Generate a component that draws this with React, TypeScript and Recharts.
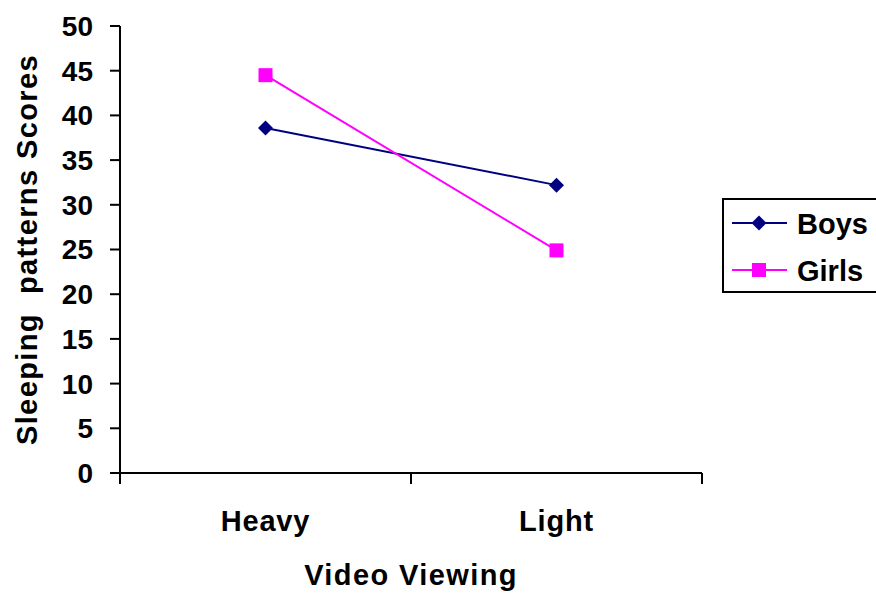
import React from "react";
import { LineChart, Line, XAxis, YAxis, Legend, Label } from "recharts";

const categories = ["Heavy", "Light"];
const boys = [38.6, 32.2];
const girls = [44.5, 24.9];
const yTicks = [0, 5, 10, 15, 20, 25, 30, 35, 40, 45, 50];

const FONT = '"Liberation Sans", Arial, Helvetica, sans-serif';
const NAVY = "#000080";
const MAGENTA = "#FF00FF";

// categories sit in the middle of each unit band; the integer ticks mark band edges
const chartData = categories.map((name, i) => ({
  pos: i + 0.5,
  name,
  boys: boys[i],
  girls: girls[i],
}));
const xTicks = [0, 0.5, 1, 1.5, 2];

const DiamondDot = (props: any) => {
  const { cx, cy } = props;
  if (cx == null || cy == null) return null;
  const r = 7.5;
  return (
    <polygon
      points={`${cx},${cy - r} ${cx + r},${cy} ${cx},${cy + r} ${cx - r},${cy}`}
      fill={NAVY}
    />
  );
};

const SquareDot = (props: any) => {
  const { cx, cy } = props;
  if (cx == null || cy == null) return null;
  const s = 14;
  return <rect x={cx - s / 2} y={cy - s / 2} width={s} height={s} fill={MAGENTA} />;
};

const XTick = (props: any) => {
  const { x, y, payload } = props;
  const v = payload.value;
  if (Number.isInteger(v)) {
    return <line x1={x} x2={x} y1={y} y2={y + 11} stroke="#000" strokeWidth={2} />;
  }
  return (
    <text
      x={x}
      y={y + 58}
      textAnchor="middle"
      fontFamily={FONT}
      fontWeight={700}
      fontSize={29}
      letterSpacing={0.8}
      fill="#000"
    >
      {categories[Math.floor(v)]}
    </text>
  );
};

const YTitle = (props: any) => {
  const vb = props.viewBox;
  const cx = vb.x + 37;
  const cy = vb.y + vb.height / 2;
  return (
    <text
      x={cx}
      y={cy}
      transform={`rotate(-90 ${cx} ${cy})`}
      textAnchor="middle"
      fontFamily={FONT}
      fontWeight={700}
      fontSize={29}
      letterSpacing={1.4}
      fill="#000"
      style={{ whiteSpace: "pre" }}
    >
      {"Sleeping  patterns Scores"}
    </text>
  );
};

const XTitle = (props: any) => {
  const vb = props.viewBox;
  return (
    <text
      x={vb.x + vb.width / 2}
      y={vb.y + 112}
      textAnchor="middle"
      fontFamily={FONT}
      fontWeight={700}
      fontSize={29}
      letterSpacing={1.4}
      fill="#000"
    >
      Video Viewing
    </text>
  );
};

const LegendBox = () => (
  <svg width={154} height={96} style={{ display: "block" }}>
    <rect x={1} y={1} width={170} height={93} fill="#fff" stroke="#000" strokeWidth={2} />
    <line x1={10} x2={65} y1={25} y2={25} stroke={NAVY} strokeWidth={2} />
    <DiamondDot cx={37} cy={25} />
    <text x={75} y={36} fontFamily={FONT} fontWeight={700} fontSize={29} fill="#000">
      Boys
    </text>
    <line x1={10} x2={65} y1={72} y2={72} stroke={MAGENTA} strokeWidth={2} />
    <SquareDot cx={37} cy={72} />
    <text x={75} y={83} fontFamily={FONT} fontWeight={700} fontSize={29} fill="#000">
      Girls
    </text>
  </svg>
);

export default function App() {
  return (
    <div style={{ position: "absolute", left: 0, top: 0, width: 876, height: 596, background: "#fff" }}>
      <LineChart
        width={876}
        height={596}
        data={chartData}
        margin={{ top: 26, right: 174, bottom: 0, left: 0 }}
      >
        <XAxis
          dataKey="pos"
          type="number"
          domain={[0, 2]}
          ticks={xTicks}
          interval={0}
          height={123}
          axisLine={{ stroke: "#000", strokeWidth: 2 }}
          tickLine={false}
          tickSize={0}
          tickMargin={0}
          tick={<XTick />}
        >
          <Label content={<XTitle />} />
        </XAxis>
        <YAxis
          domain={[0, 50]}
          ticks={yTicks}
          interval={0}
          width={120}
          axisLine={{ stroke: "#000", strokeWidth: 2 }}
          tickLine={{ stroke: "#000", strokeWidth: 2 }}
          tickSize={10}
          tickMargin={17}
          tick={{ fill: "#000", fontSize: 28, fontWeight: 700, fontFamily: FONT }}
        >
          <Label content={<YTitle />} />
        </YAxis>
        <Legend
          layout="vertical"
          align="center"
          verticalAlign="middle"
          wrapperStyle={{ left: 722, top: 198, width: 154, height: 96 }}
          content={() => <LegendBox />}
        />
        <Line
          type="linear"
          dataKey="boys"
          name="Boys"
          stroke={NAVY}
          strokeWidth={2}
          dot={<DiamondDot />}
          activeDot={false}
          isAnimationActive={false}
        />
        <Line
          type="linear"
          dataKey="girls"
          name="Girls"
          stroke={MAGENTA}
          strokeWidth={2}
          dot={<SquareDot />}
          activeDot={false}
          isAnimationActive={false}
        />
      </LineChart>
    </div>
  );
}
